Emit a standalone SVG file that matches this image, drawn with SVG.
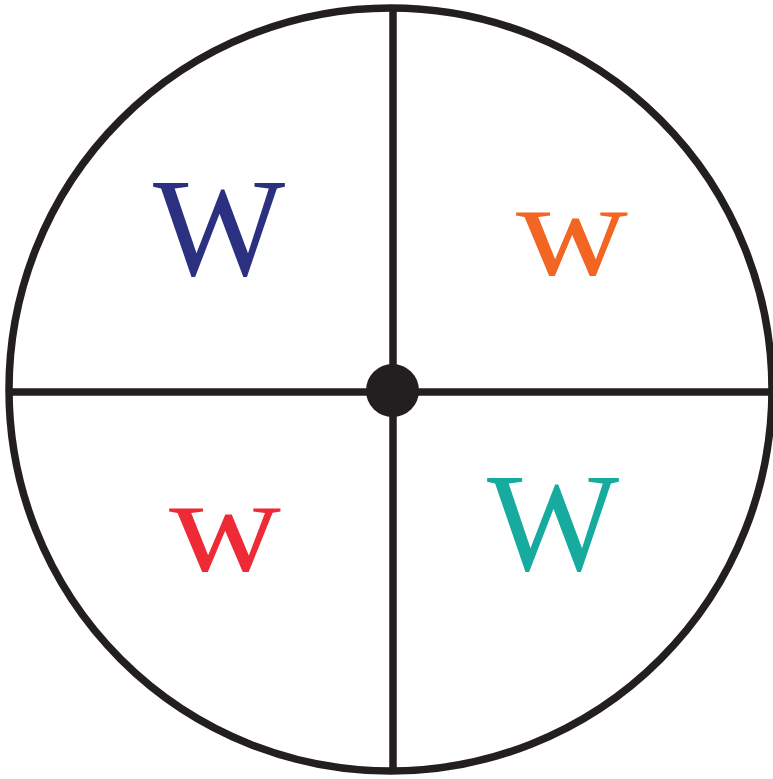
<svg xmlns="http://www.w3.org/2000/svg" width="773" height="779" viewBox="0 0 773 779">
<style>
.ln{stroke:#231f20;stroke-width:7.5;fill:none}
.lt{font-family:"Liberation Serif","Times New Roman",serif;text-anchor:middle}
</style>
<rect width="773" height="779" fill="#ffffff"/>
<g id="wheel">
<circle class="ln" cx="390.5" cy="389.5" r="381.5"/>
</g>
<g id="connectors">
<line class="ln" x1="9" y1="392" x2="772" y2="392"/>
<line class="ln" x1="393" y1="7" x2="393" y2="772"/>
</g>
<g id="hub">
<circle cx="392.5" cy="390.5" r="26.5" fill="#231f20"/>
</g>
<g id="q1"><text class="lt" x="219" y="275" font-size="140" fill="#2b3180">W</text></g>
<g id="q2"><text class="lt" transform="translate(572 275) scale(1.15 1)" x="0" y="0" font-size="135" fill="#f26522">w</text></g>
<g id="q3"><text class="lt" transform="translate(225 571) scale(1.15 1)" x="0" y="0" font-size="135" fill="#ed2a36">w</text></g>
<g id="q4"><text class="lt" x="553" y="570" font-size="140" fill="#17aba0">W</text></g>
</svg>
